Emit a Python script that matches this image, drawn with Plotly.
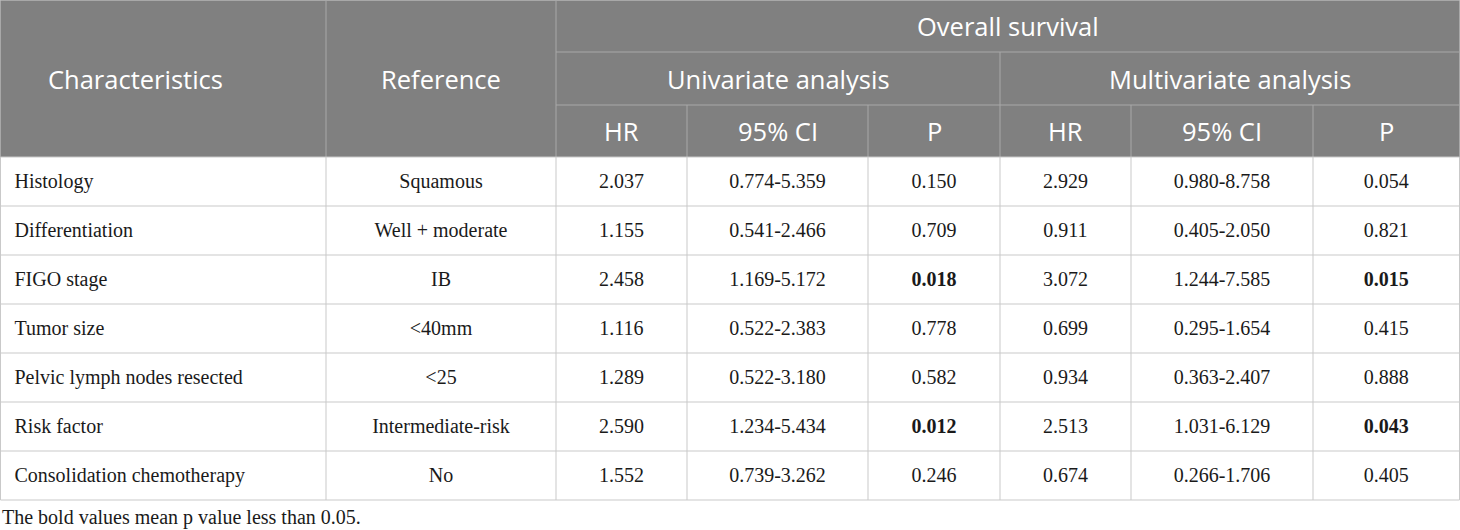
import plotly.graph_objects as go

# table content
characteristics = [
    "Histology",
    "Differentiation",
    "FIGO stage",
    "Tumor size",
    "Pelvic lymph nodes resected",
    "Risk factor",
    "Consolidation chemotherapy",
]
reference = ["Squamous", "Well + moderate", "IB", "<40mm", "<25", "Intermediate-risk", "No"]

uni_hr = ["2.037", "1.155", "2.458", "1.116", "1.289", "2.590", "1.552"]
uni_ci = ["0.774-5.359", "0.541-2.466", "1.169-5.172", "0.522-2.383", "0.522-3.180", "1.234-5.434", "0.739-3.262"]
uni_p = ["0.150", "0.709", "0.018", "0.778", "0.582", "0.012", "0.246"]

multi_hr = ["2.929", "0.911", "3.072", "0.699", "0.934", "2.513", "0.674"]
multi_ci = ["0.980-8.758", "0.405-2.050", "1.244-7.585", "0.295-1.654", "0.363-2.407", "1.031-6.129", "0.266-1.706"]
multi_p = ["0.054", "0.821", "0.015", "0.415", "0.888", "0.043", "0.405"]

group_title = "Overall survival"
analysis_titles = ["Univariate analysis", "Multivariate analysis"]
sub_titles = ["HR", "95% CI", "P"]
caption = "The bold values mean p value less than 0.05."

# layout (pixels, y grows downward)
W, H = 1460, 530
col_edges = [0.5, 326, 556, 687, 868, 1000, 1131, 1313, 1459.5]
head_edges = [0.5, 52, 105, 157]
row_h = 49
body_top = head_edges[-1]
n_rows = len(characteristics)
body_bottom = body_top + n_rows * row_h

head_fill = "#808080"
head_line = "#a8a8a8"
body_line = "#c9c9c9"
head_font = dict(family="Open Sans", size=25.5, color="white")
body_font = dict(family="Liberation Serif", size=20, color="#1a1a1a")


def bold_if_sig(vals):
    return [f"<b>{v}</b>" if float(v) < 0.05 else v for v in vals]


columns = [characteristics, reference, uni_hr, uni_ci, bold_if_sig(uni_p),
           multi_hr, multi_ci, bold_if_sig(multi_p)]

row_y = [body_top + (i + 0.5) * row_h + 1 for i in range(n_rows)]

fig = go.Figure()

for j, col in enumerate(columns):
    if j == 0:
        xs = [col_edges[0] + 14] * n_rows
        pos = "middle right"
    else:
        xs = [(col_edges[j] + col_edges[j + 1]) / 2] * n_rows
        pos = "middle center"
    fig.add_trace(go.Scatter(
        x=xs, y=row_y, text=col, mode="text", textposition=pos,
        textfont=body_font, hoverinfo="skip", showlegend=False,
    ))

shapes = []
# header background
shapes.append(dict(type="rect", x0=col_edges[0], x1=col_edges[-1], y0=head_edges[0], y1=head_edges[-1],
                   fillcolor=head_fill, line=dict(width=0), layer="below"))


def seg(x0, y0, x1, y1, color):
    shapes.append(dict(type="line", x0=x0, y0=y0, x1=x1, y1=y1, line=dict(color=color, width=1)))


# header grid
seg(col_edges[2], head_edges[1], col_edges[-1], head_edges[1], head_line)
seg(col_edges[2], head_edges[2], col_edges[-1], head_edges[2], head_line)
seg(col_edges[1], head_edges[0], col_edges[1], head_edges[3], head_line)
seg(col_edges[2], head_edges[0], col_edges[2], head_edges[3], head_line)
seg(col_edges[5], head_edges[1], col_edges[5], head_edges[3], head_line)
for k in (3, 4, 6, 7):
    seg(col_edges[k], head_edges[2], col_edges[k], head_edges[3], head_line)
seg(col_edges[0], head_edges[0], col_edges[-1], head_edges[0], head_line)
seg(col_edges[0], head_edges[0], col_edges[0], head_edges[3], head_line)
seg(col_edges[-1], head_edges[0], col_edges[-1], head_edges[3], head_line)

# body grid
for i in range(n_rows + 1):
    y = body_top + i * row_h
    seg(col_edges[0], y, col_edges[-1], y, body_line)
for x in col_edges:
    seg(x, body_top, x, body_bottom, body_line)

annotations = []


def head_text(text, x, y):
    annotations.append(dict(text=text, x=x, y=y, xref="x", yref="y", showarrow=False,
                            font=head_font, xanchor="center", yanchor="middle"))


head_text("Characteristics", (col_edges[0] + col_edges[1]) / 2 - 28, (head_edges[0] + head_edges[3]) / 2)
head_text("Reference", (col_edges[1] + col_edges[2]) / 2, (head_edges[0] + head_edges[3]) / 2)
head_text(group_title, (col_edges[2] + col_edges[-1]) / 2, (head_edges[0] + head_edges[1]) / 2)
head_text(analysis_titles[0], (col_edges[2] + col_edges[5]) / 2, (head_edges[1] + head_edges[2]) / 2)
head_text(analysis_titles[1], (col_edges[5] + col_edges[-1]) / 2, (head_edges[1] + head_edges[2]) / 2)
for k, t in enumerate(sub_titles * 2):
    head_text(t, (col_edges[2 + k] + col_edges[3 + k]) / 2, (head_edges[2] + head_edges[3]) / 2)

annotations.append(dict(text=caption, x=0, y=517, xref="x", yref="y", showarrow=False,
                        font=body_font, xanchor="left", yanchor="middle"))

fig.update_layout(
    width=W, height=H,
    margin=dict(l=0, r=0, t=0, b=0),
    paper_bgcolor="white", plot_bgcolor="white",
    xaxis=dict(range=[0, W], visible=False, fixedrange=True),
    yaxis=dict(range=[H, 0], visible=False, fixedrange=True),
    shapes=shapes, annotations=annotations,
    hovermode=False,
)

fig.write_html("out.html", config={"displayModeBar": False},
               post_script="document.body.style.margin='0';document.body.style.overflow='hidden';")
